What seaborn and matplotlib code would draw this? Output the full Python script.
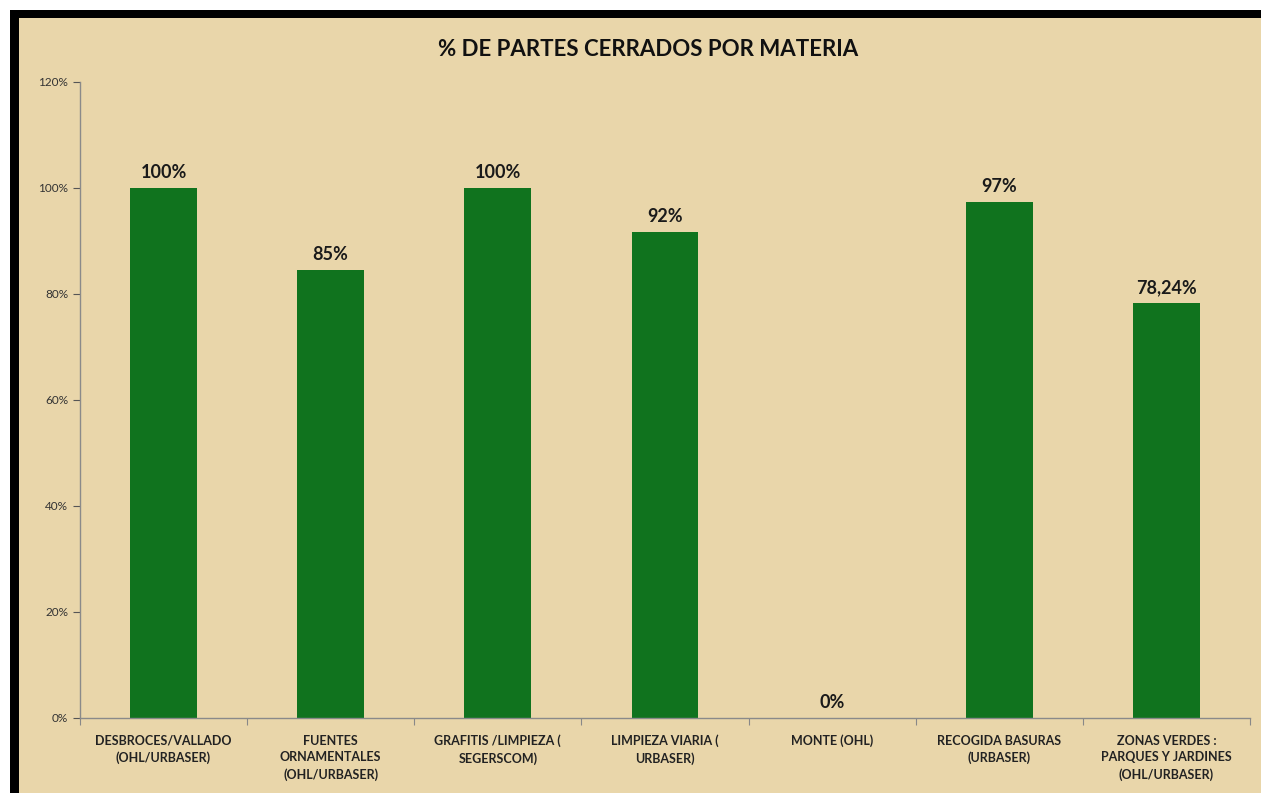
import seaborn as sns
import matplotlib.pyplot as plt
from matplotlib.patches import Rectangle
from matplotlib.ticker import FixedLocator, PercentFormatter

# data
categorias = [
    "DESBROCES/VALLADO\n(OHL/URBASER)",
    "FUENTES\nORNAMENTALES\n(OHL/URBASER)",
    "GRAFITIS /LIMPIEZA (\nSEGERSCOM)",
    "LIMPIEZA VIARIA (\nURBASER)",
    "MONTE (OHL)",
    "RECOGIDA BASURAS\n(URBASER)",
    "ZONAS VERDES :\nPARQUES Y JARDINES\n(OHL/URBASER)",
]
porcentajes = [100, 84.6, 100, 91.7, 0, 97.3, 78.24]
etiquetas = ["100%", "85%", "100%", "92%", "0%", "97%", "78,24%"]

beige = "#E9D6AA"
verde = "#10731E"

sns.set_theme(style="ticks")
plt.rcParams["font.family"] = ["Lato", "DejaVu Sans"]

fig = plt.figure(figsize=(12.61, 7.93), dpi=100, facecolor=beige)
ax = fig.add_axes([0.0634, 0.0946, 0.9279, 0.802])
ax.set_facecolor(beige)

sns.barplot(x=categorias, y=porcentajes, color=verde, width=0.4,
            saturation=1, edgecolor="none", linewidth=0, ax=ax)

ax.bar_label(ax.containers[0], labels=etiquetas, padding=5,
             fontsize=13, fontweight="bold", color="#1a1a1a")

ax.set_ylim(0, 120)
ax.set_xlim(-0.5, len(categorias) - 0.5)
ax.set_yticks(range(0, 121, 20))
ax.yaxis.set_major_formatter(PercentFormatter(decimals=0))
ax.tick_params(axis="y", labelsize=8.5, colors="#555555", labelcolor="#333333",
               length=5, width=0.8)
ax.tick_params(axis="x", which="major", length=0, pad=12, labelsize=9,
               labelcolor="#222222")
for t in ax.get_xticklabels():
    t.set_fontweight("bold")
    t.set_linespacing(1.45)
ax.xaxis.set_minor_locator(FixedLocator([i - 0.5 for i in range(len(categorias) + 1)]))
ax.tick_params(axis="x", which="minor", length=5, width=0.8, color="#888888")

for s in ["top", "right"]:
    ax.spines[s].set_visible(False)
for s in ["left", "bottom"]:
    ax.spines[s].set_color("#8a8a8a")
    ax.spines[s].set_linewidth(1)

fig.text(0.514, 0.938, "% DE PARTES CERRADOS POR MATERIA", ha="center",
         va="center", fontsize=16, fontweight="bold", color="#111111")

# screenshot frame: white strip on top, thick black border top and left
W, H = 1261, 793
fig.patches.append(Rectangle((0, 1 - 10 / H), 1, 10 / H, transform=fig.transFigure,
                             facecolor="white", edgecolor="none", zorder=0))
fig.patches.append(Rectangle((0, 0), 10 / W, 1, transform=fig.transFigure,
                             facecolor="white", edgecolor="none", zorder=0))
fig.patches.append(Rectangle((10 / W, 1 - 18 / H), 1, 8 / H, transform=fig.transFigure,
                             facecolor="black", edgecolor="none", zorder=1))
fig.patches.append(Rectangle((10 / W, 0), 9 / W, 1 - 10 / H, transform=fig.transFigure,
                             facecolor="black", edgecolor="none", zorder=1))

fig.savefig("out.png", dpi=100, facecolor=beige)
